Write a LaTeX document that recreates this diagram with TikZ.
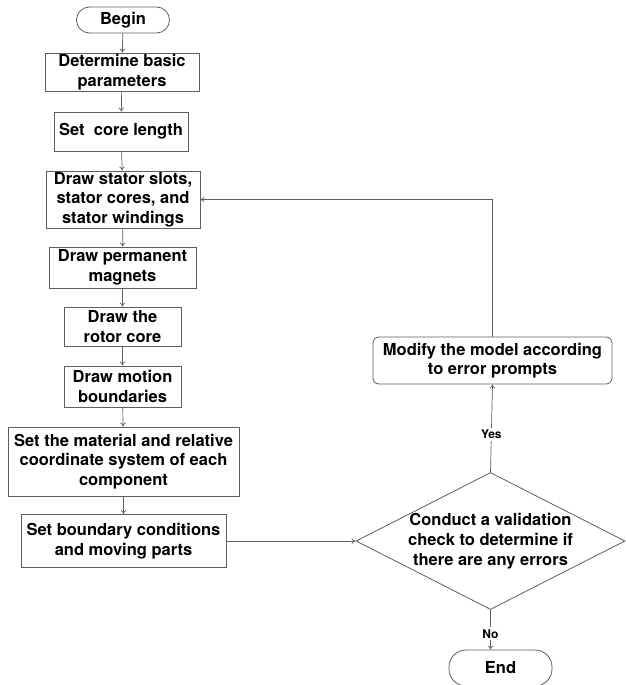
\documentclass[tikz,border=0pt]{standalone}
\usepackage{fontspec}
\setmainfont{TeX Gyre Heros}
\usetikzlibrary{shapes.geometric,arrows.meta}
\definecolor{linec}{HTML}{5E5E5E}
\tikzset{
  box/.style={draw=linec, line width=0.8pt, rectangle, inner sep=0pt, align=center,
    font=\fontsize{16.5}{19.7}\selectfont\bfseries},
  pill/.style={box, rounded corners=13pt},
  conn/.style={draw=linec, line width=0.7pt, -{To[length=4pt,width=5.5pt]}},
  lab/.style={fill=white, inner sep=2pt, font=\fontsize{12}{14}\selectfont\bfseries}
}
\begin{document}
\begin{tikzpicture}[x=1pt,y=-1pt]
\useasboundingbox (0,0) rectangle (625,685);
\node[pill, minimum width=93pt, minimum height=26pt] (begin) at (123,20) {Begin};
\node[box, minimum width=154pt, minimum height=38pt] (det) at (122,72) {Determine basic\\parameters};
\node[box, minimum width=134pt, minimum height=39pt] (core) at (121,131.5) {Set\ \ core length};
\node[box, minimum width=154pt, minimum height=57pt] (stator) at (123,199.5) {Draw stator slots,\\stator cores, and\\stator windings};
\node[box, minimum width=147pt, minimum height=41pt] (pm) at (122.5,267.5) {Draw permanent\\magnets};
\node[box, minimum width=117pt, minimum height=39pt] (rotor) at (122.5,326.5) {Draw the\\rotor core};
\node[box, minimum width=117pt, minimum height=41pt] (motion) at (122.5,386.5) {Draw motion\\boundaries};
\node[box, minimum width=231pt, minimum height=69pt] (mat) at (123.5,461.5) {Set the material and relative\\coordinate system of each\\component};
\node[box, minimum width=205pt, minimum height=53pt] (bc) at (123.5,541) {Set boundary conditions\\and moving parts};
\node[box, rounded corners=6pt, minimum width=239pt, minimum height=47pt] (modify) at (492.5,360.5) {Modify the model according\\to error prompts};
\node[box, shape=diamond, minimum width=269pt, minimum height=137pt] (chk) at (490.5,541) {};
\node[box, draw=none] (chktext) at (chk.center) {Conduct a validation\\check to determine if\\there are any errors};
\node[pill, rounded corners=17pt, minimum width=103pt, minimum height=36pt] (end) at (500.5,668) {End};

\draw[conn] (begin) -- (det);
\draw[conn] (det) -- (core);
\draw[conn] (core) -- (stator);
\draw[conn] (stator) -- (pm);
\draw[conn] (pm) -- (rotor);
\draw[conn] (rotor) -- (motion);
\draw[conn] (motion) -- (mat);
\draw[conn] (mat) -- (bc);
\draw[conn] (bc.east) -- (chk.west);
\draw[conn] (chk.north) -- node[lab, pos=0.43] (yes) {Yes} (modify.south);
\draw[conn] (modify.north) |- (stator.east);
\draw[conn] (chk.south) -- node[lab, pos=0.6] (no) {No} (end.north -| chk.south);
\end{tikzpicture}
\end{document}
